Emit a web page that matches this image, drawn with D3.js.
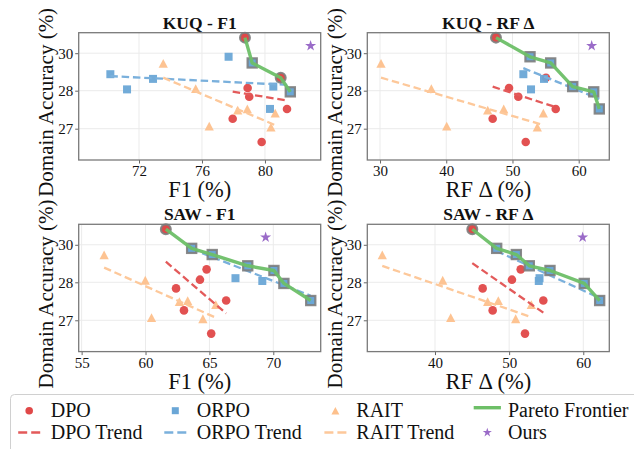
<!DOCTYPE html>
<html><head><meta charset="utf-8">
<script src="https://cdn.jsdelivr.net/npm/d3@7"></script>
<style>
html,body{margin:0;padding:0;background:#fff;}
svg{display:block;font-family:"Liberation Serif","Times New Roman",serif;}
</style></head><body>
<svg id="chart" width="634" height="449"></svg>
<script>
// ---------- data ----------
const accTicks = [27, 28, 30];
const dpoAcc   = [30.83, 28.69, 28.14, 27.84, 27.52, 27.26, 26.65];
const dpoKuqF1 = [78.73, 81.00, 78.90, 79.00, 81.40, 77.95, 79.79];
const dpoKuqRF = [47.51, 55.06, 49.48, 50.88, 56.53, 47.01, 52.00];
const dpoSawF1 = [61.59, 64.78, 64.26, 62.39, 66.31, 63.01, 65.14];
const dpoSawRF = [45.03, 51.56, 50.38, 46.43, 54.61, 47.78, 52.14];

const orpoAcc   = [28.88, 28.07, 28.63, 29.81, 29.48, 28.22, 27.97, 27.52];
const orpoKuqF1 = [70.18, 71.24, 72.89, 77.69, 79.19, 80.53, 81.61, 80.32];
const orpoKuqRF = [51.64, 52.80, 54.76, 52.65, 55.77, 59.09, 62.27, 63.11];
const orpoSawF1 = [68.00, 69.14, 70.05, 63.61, 65.22, 67.04, 70.83, 72.93];
const orpoSawRF = [52.72, 54.00, 55.51, 48.32, 50.97, 54.10, 60.13, 62.21];

const raitAcc   = [29.46, 28.11, 27.07, 27.49, 27.52, 27.41, 27.04];
const raitKuqF1 = [73.54, 75.60, 76.46, 78.27, 78.88, 80.65, 80.38];
const raitKuqRF = [30.15, 37.75, 40.07, 46.26, 48.68, 54.66, 53.75];
const raitSawF1 = [56.76, 59.98, 60.47, 62.65, 63.30, 65.50, 64.49];
const raitSawRF = [32.89, 41.04, 42.12, 47.10, 48.54, 52.99, 50.88];

const oursAcc = 30.4;
const oursX = [82.9, 61.96, 69.4, 59.92];

const panelTitles = ["KUQ - F1", "KUQ - RF Δ", "SAW - F1", "SAW - RF Δ"];
const xLabels = ["F1 (%)", "RF Δ (%)", "F1 (%)", "RF Δ (%)"];
const yLabel = "Domain Accuracy (%)";
const xTicks = [[72, 76, 80], [30, 40, 50, 60], [55, 60, 65, 70], [40, 50, 60]];
const xDomains = [[68.17, 83.54], [28.08, 64.62], [54.77, 73.71], [30.87, 63.51]];
const yDomain = [26.176, 28, 31.093];

const legendItems = ["DPO", "ORPO", "RAIT", "Pareto Frontier", "DPO Trend", "ORPO Trend", "RAIT Trend", "Ours"];

// ---------- style ----------
const C = {
  DPO: "#e04848", ORPO: "#6aa6d6", RAIT: "#fdc08c",
  DPOt: "#e35a5a", ORPOt: "#7ab0dc", RAITt: "#fdc89a",
  pareto: "#6dbf67", ours: "#9a6bc8"
};
const panelX = [78.7, 367.3, 78.7, 367.3];
const panelY = [32.7, 32.7, 224.3, 224.3];
const PW = 242, PH = 127.3;

const svg = d3.select("#chart");

function triPath(cx, cy, s) {
  return `M${cx},${cy - s}L${cx + s * 1.05},${cy + s}L${cx - s * 1.05},${cy + s}Z`;
}
function drawShape(g, shape, cx, cy, sz, attrs) {
  let el;
  if (shape === "circle") el = g.append("circle").attr("cx", cx).attr("cy", cy).attr("r", sz);
  else if (shape === "square") el = g.append("rect").attr("x", cx - sz).attr("y", cy - sz).attr("width", 2 * sz).attr("height", 2 * sz);
  else if (shape === "triangle") el = g.append("path").attr("d", triPath(cx, cy, sz));
  else if (shape === "star") el = g.append("path").attr("d", d3.symbol(d3.symbolStar, sz)()).attr("transform", `translate(${cx},${cy})`);
  for (const k in attrs) el.attr(k, attrs[k]);
  return el;
}

const panelData = [
  [dpoKuqF1, orpoKuqF1, raitKuqF1],
  [dpoKuqRF, orpoKuqRF, raitKuqRF],
  [dpoSawF1, orpoSawF1, raitSawF1],
  [dpoSawRF, orpoSawRF, raitSawRF]
];
const methodInfo = [
  {name: "DPO", acc: dpoAcc, shape: "circle", size: 4.3},
  {name: "ORPO", acc: orpoAcc, shape: "square", size: 4},
  {name: "RAIT", acc: raitAcc, shape: "triangle", size: 4.4}
];

for (let p = 0; p < 4; p++) {
  const L = panelX[p], T = panelY[p];
  const x = d3.scaleLinear().domain(xDomains[p]).range([L, L + PW]);
  const y = d3.scaleLinear().domain(yDomain).range([T + PH, T + 58, T]);
  const g = svg.append("g");

  // grid
  g.selectAll(null).data(xTicks[p]).enter().append("line")
    .attr("x1", d => x(d)).attr("x2", d => x(d)).attr("y1", T).attr("y2", T + PH)
    .attr("stroke", "#ebebeb").attr("stroke-width", 1);
  g.selectAll(null).data(accTicks).enter().append("line")
    .attr("x1", L).attr("x2", L + PW).attr("y1", d => y(d)).attr("y2", d => y(d))
    .attr("stroke", "#ebebeb").attr("stroke-width", 1);

  // axes
  const xa = g.append("g").attr("transform", `translate(0,${T + PH})`)
    .call(d3.axisBottom(x).tickValues(xTicks[p]).tickSize(3.5).tickPadding(2).tickFormat(d3.format("d")));
  const ya = g.append("g").attr("transform", `translate(${L},0)`)
    .call(d3.axisLeft(y).tickValues(accTicks).tickSize(3.5).tickPadding(2).tickFormat(d3.format("d")));
  [xa, ya].forEach(a => {
    a.attr("font-family", null);
    a.select(".domain").remove();
    a.selectAll("line").attr("stroke", "#666");
    a.selectAll("text").attr("font-size", 15).attr("fill", "#111")
      .attr("font-family", '"Liberation Serif","Times New Roman",serif');
  });

  // points
  const all = [];
  methodInfo.forEach((m, mi) => {
    const xs = panelData[p][mi];
    xs.forEach((v, i) => {
      all.push({m, x: v, acc: m.acc[i]});
      drawShape(g, m.shape, x(v), y(m.acc[i]), m.size, {fill: C[m.name], "fill-opacity": 0.95});
    });
  });

  // trend lines (least squares in plotted space)
  methodInfo.forEach((m, mi) => {
    const xs = panelData[p][mi].map(v => x(v));
    const ys = m.acc.map(v => y(v));
    const mx = d3.mean(xs), my = d3.mean(ys);
    let sxy = 0, sxx = 0;
    xs.forEach((v, i) => { sxy += (v - mx) * (ys[i] - my); sxx += (v - mx) * (v - mx); });
    const b = sxy / sxx;
    const x0 = d3.min(xs), x1 = d3.max(xs);
    g.append("line").attr("x1", x0).attr("y1", my + b * (x0 - mx)).attr("x2", x1).attr("y2", my + b * (x1 - mx))
      .attr("stroke", C[m.name + "t"]).attr("stroke-width", 2.3).attr("stroke-dasharray", "7.5,3.8");
  });

  // pareto frontier
  const front = all.filter(a => !all.some(o => o !== a && o.x >= a.x && o.acc >= a.acc && (o.x > a.x || o.acc > a.acc)))
    .sort((a, b) => a.x - b.x);
  front.forEach(f => {
    drawShape(g, f.m.shape, x(f.x), y(f.acc), f.m.size + 0.6,
      {fill: C[f.m.name], "fill-opacity": 0.9, stroke: "#7d7d7d", "stroke-width": 2.2, "stroke-opacity": 0.9});
  });
  g.append("path").datum(front)
    .attr("d", d3.line().x(d => x(d.x)).y(d => y(d.acc)))
    .attr("fill", "none").attr("stroke", C.pareto).attr("stroke-width", 3.4)
    .attr("stroke-linejoin", "round").attr("stroke-opacity", 0.95);

  // ours
  drawShape(g, "star", x(oursX[p]), y(oursAcc), 38, {fill: C.ours});

  // frame
  g.append("rect").attr("x", L).attr("y", T).attr("width", PW).attr("height", PH)
    .attr("fill", "none").attr("stroke", "#7a7a7a").attr("stroke-width", 1.3);

  // titles & labels
  g.append("text").attr("x", L + PW / 2).attr("y", T - 4).attr("text-anchor", "middle")
    .attr("font-size", 17.5).attr("font-weight", "bold").attr("fill", "#111").text(panelTitles[p]);
  g.append("text").attr("x", L + PW / 2).attr("y", T + PH + 37).attr("text-anchor", "middle")
    .attr("font-size", 22.5).attr("fill", "#111").text(xLabels[p]);
  g.append("text").attr("transform", `translate(${L - 25.5},${T + PH / 2 + 6}) rotate(-90)`)
    .attr("text-anchor", "middle").attr("font-size", 21).attr("fill", "#111").text(yLabel);
}

// ---------- legend ----------
const lg = svg.append("g");
lg.append("rect").attr("x", 10.5).attr("y", 394.5).attr("width", 640).attr("height", 62).attr("rx", 4)
  .attr("fill", "#fff").attr("stroke", "#d0d0d0").attr("stroke-width", 1);
const colHandle = [29.2, 175.3, 335.4, 487.3];
const colText = [50.7, 196.7, 356.3, 508];
const rowY = [410.7, 432.5];
const rowText = [416.5, 438.5];
legendItems.forEach((name, i) => {
  const col = i % 4, row = Math.floor(i / 4);
  const hx = colHandle[col], hy = rowY[row];
  if (name === "DPO") drawShape(lg, "circle", hx, hy, 3.8, {fill: C.DPO});
  else if (name === "ORPO") drawShape(lg, "square", hx, hy, 3.5, {fill: C.ORPO});
  else if (name === "RAIT") drawShape(lg, "triangle", hx, hy, 3.8, {fill: C.RAIT});
  else if (name === "Ours") drawShape(lg, "star", hx, hy, 26, {fill: C.ours});
  else if (name === "Pareto Frontier") lg.append("line").attr("x1", hx - 13.6).attr("x2", hx + 13.6).attr("y1", hy - 3).attr("y2", hy - 3)
    .attr("stroke", C.pareto).attr("stroke-width", 3.4);
  else {
    const key = name.split(" ")[0] + "t";
    lg.append("line").attr("x1", hx - 11).attr("x2", hx + 11).attr("y1", hy).attr("y2", hy)
      .attr("stroke", C[key]).attr("stroke-width", 2.3).attr("stroke-dasharray", "9,4");
  }
  lg.append("text").attr("x", colText[col]).attr("y", rowText[row]).attr("font-size", 20).attr("fill", "#111").text(name);
});
</script>
</body></html>
